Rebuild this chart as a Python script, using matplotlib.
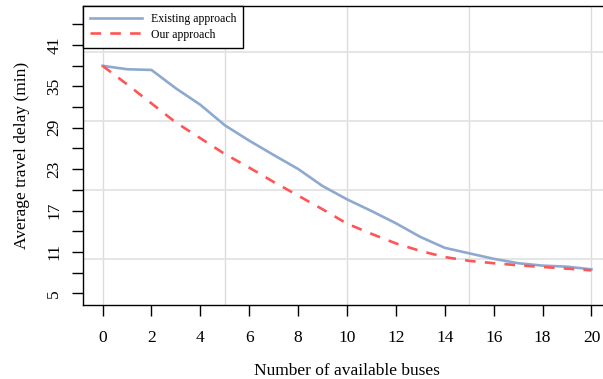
import matplotlib
matplotlib.use('Agg')
import matplotlib.pyplot as plt

plt.rcParams['font.family'] = ['Liberation Serif', 'DejaVu Serif']

# data
buses = list(range(0, 21))
existing = [37.98, 37.48, 37.38, 34.71, 32.33, 29.36, 27.13, 25.05, 23.02, 20.55, 18.62,
            16.93, 15.15, 13.17, 11.59, 10.79, 10.0, 9.36, 9.01, 8.86, 8.47]
ours = [37.98, 35.3, 32.53, 29.76, 27.48, 25.2, 23.22, 21.14, 19.16, 17.18, 15.1,
        13.62, 12.23, 11.14, 10.25, 9.7, 9.36, 9.06, 8.81, 8.57, 8.32]
yticks = [5, 11, 17, 23, 29, 35, 41]
yminor = [8, 14, 20, 26, 32, 38, 44]
xticks = list(range(0, 21, 2))

fig = plt.figure(figsize=(6.03, 3.79), dpi=100)
ax = fig.add_axes([83/603, 1-305/379, 528/603, 299/379])

ax.set_xlim(-0.8, 20.8)
ax.set_ylim(3.3, 46.65)

# grid
for gx in [0, 5, 10, 15, 20]:
    ax.axvline(gx, color='#dcdcdc', lw=1.0, zorder=0)
for gy in [10, 20, 30, 40]:
    ax.axhline(gy, color='#e3e3e3', lw=1.3, zorder=0)

ax.plot(buses, existing, color='#8ea9cf', lw=1.9, label='Existing approach', zorder=2)
ax.plot(buses, ours, color='#ff5555', lw=1.9, ls=(0, (4, 3.5)), label='Our approach', zorder=3)

ax.set_xticks(xticks)
ax.set_yticks(yticks)
ax.set_yticks(yminor, minor=True)
ax.set_yticklabels([str(v) for v in yticks], rotation=90, va='center')
ax.tick_params(axis='both', which='both', direction='out', length=8, width=1,
               labelsize=12.5, color='black')
ax.tick_params(axis='x', pad=10)
ax.tick_params(axis='y', pad=7)

for s in ax.spines.values():
    s.set_linewidth(1.0)
    s.set_color('black')

ax.set_xlabel('Number of available buses', fontsize=12.5, labelpad=12)
ax.set_ylabel('Average travel delay (min)', fontsize=12.5, labelpad=12)

leg = ax.legend(loc='upper left', bbox_to_anchor=(0, 1), borderaxespad=0,
                fancybox=False, edgecolor='black', framealpha=1, fontsize=8.5,
                handlelength=4.4, handletextpad=0.7, labelspacing=0.28,
                borderpad=0.62)
leg.get_frame().set_linewidth(1.0)

fig.savefig('out.png', dpi=100)
